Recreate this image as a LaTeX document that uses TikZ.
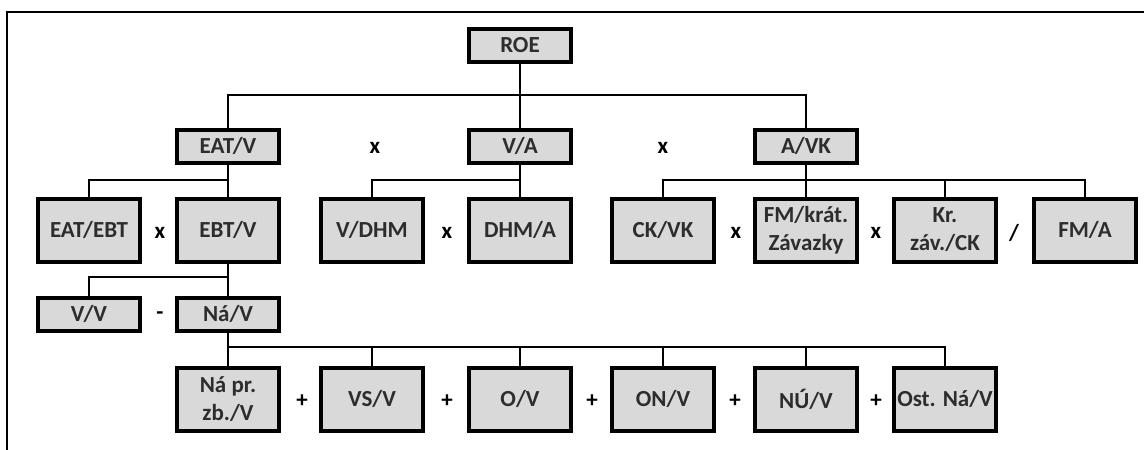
\documentclass[tikz,border=0pt]{standalone}
\usepackage{fontspec}
\setmainfont{Carlito}
\usepackage{xcolor}
\usepackage{tikz}
\usetikzlibrary{positioning, calc}
\definecolor{boxgray}{RGB}{217,217,217}
\definecolor{txtgray}{RGB}{45,45,45}

\begin{document}
\begin{tikzpicture}[x=1pt, y=-1pt,
    box/.style={rectangle, draw=black, fill=boxgray, line width=4pt, minimum width=102pt, minimum height=33pt, inner sep=0pt, font=\fontsize{23}{28}\selectfont\bfseries, text=txtgray, align=center},
    tallbox/.style={box, minimum height=63pt},
    op/.style={font=\fontsize{23}{28}\selectfont\bfseries, text=black, inner sep=0pt},
    conn/.style={line width=2pt, black},
    frame/.style={line width=1.5pt, black}
]
\useasboundingbox (0,0) rectangle (1144,450);
\draw[frame] (1144,12) -- (7,12) -- (7,450);

% bus levels
\coordinate (bus1) at (0,95);
\coordinate (bus2) at (0,180);
\coordinate (bus3) at (0,277);
\coordinate (bus4) at (0,347);

\node[box] (roe) at (520, 45) {ROE};

\node[box] (eatv) at (228, 146) {EAT/V};
\node[box] (va) at (520, 146) {V/A};
\node[box] (avk) at (806, 146) {A/VK};
\node[op] (t1) at (375, 148) {x};
\node[op] (t2) at (663, 148) {x};

\node[tallbox] (eatebt) at (89, 230) {EAT/EBT};
\node[tallbox] (ebtv) at (228, 230) {EBT/V};
\node[tallbox] (vdhm) at (372, 230) {V/DHM};
\node[tallbox] (dhma) at (520, 230) {DHM/A};
\node[tallbox] (ckvk) at (663, 230) {CK/VK};
\node[tallbox] (fmkz) at (806, 230) {FM/krát.\\Závazky};
\node[tallbox] (krzck) at (945, 230) {Kr.\\záv./CK};
\node[tallbox] (fma) at (1085, 230) {FM/A};
\node[op] (t3) at (160, 233) {x};
\node[op] (t4) at (447, 233) {x};
\node[op] (t5) at (736, 233) {x};
\node[op] (t6) at (876, 233) {x};
\node[op] (t7) at (1014, 233) {/};

\node[box] (vv) at (89, 314) {V/V};
\node[box] (nav) at (228, 314) {Ná/V};
\node[op] (t8) at (160, 316) {-};

\node[tallbox] (napr) at (228, 399) {Ná pr.\\zb./V};
\node[tallbox] (vsv) at (372, 399) {VS/V};
\node[tallbox] (ov) at (520, 399) {O/V};
\node[tallbox] (onv) at (663, 399) {ON/V};
\node[tallbox] (nuv) at (806, 399) {NÚ/V};
\node[tallbox] (ostnav) at (945, 399) {Ost. Ná/V};
\node[op] (t9) at (302, 401) {+};
\node[op] (t10) at (447, 401) {+};
\node[op] (t11) at (592, 401) {+};
\node[op] (t12) at (735, 401) {+};
\node[op] (t13) at (876, 401) {+};

% ROE
\draw[conn] (roe) -- (va);
\draw[conn] (eatv.north) -- (eatv.north |- bus1) -| (avk.north);
% EAT/V
\draw[conn] (eatv) -- (ebtv);
\draw[conn] (eatebt.north) -- (eatebt.north |- bus2) -| (ebtv.north);
% V/A
\draw[conn] (va) -- (dhma);
\draw[conn] (vdhm.north) -- (vdhm.north |- bus2) -| (dhma.north);
% A/VK
\draw[conn] (avk) -- (fmkz);
\draw[conn] (ckvk.north) -- (ckvk.north |- bus2) -| (fma.north);
\draw[conn] (krzck.north) -- (krzck.north |- bus2);
% EBT/V
\draw[conn] (ebtv) -- (nav);
\draw[conn] (vv.north) -- (vv.north |- bus3) -| (nav.north);
% Na/V
\draw[conn] (nav) -- (napr);
\draw[conn] (napr.north) -- (napr.north |- bus4) -| (ostnav.north);
\draw[conn] (vsv.north) -- (vsv.north |- bus4);
\draw[conn] (ov.north) -- (ov.north |- bus4);
\draw[conn] (onv.north) -- (onv.north |- bus4);
\draw[conn] (nuv.north) -- (nuv.north |- bus4);
\end{tikzpicture}
\end{document}
